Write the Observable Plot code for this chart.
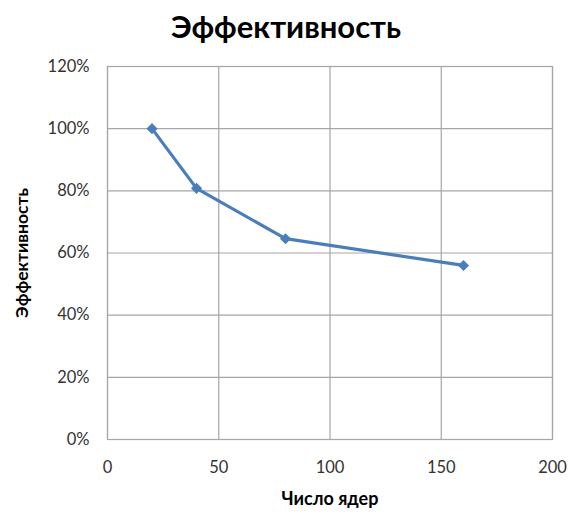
<!DOCTYPE html>
<html>
<head>
<meta charset="utf-8">
<script src="https://cdn.jsdelivr.net/npm/d3@7"></script>
<script src="https://cdn.jsdelivr.net/npm/@observablehq/plot@0.6"></script>
<style>
  html, body { margin: 0; padding: 0; background: #fff; }
  #chart { width: 572px; font-family: Lato, "Open Sans", sans-serif; }
  #title { height: 50px; line-height: 52px; text-align: center; font-size: 31px; font-weight: bold; color: #000; }
</style>
</head>
<body>
<div id="chart">
  <div id="title">Эффективность</div>
</div>
<script>
// Число ядер и соответствующая эффективность
const cores = [20, 40, 80, 160];
const efficiency = [1.0, 0.808, 0.646, 0.56];
const xTicks = [0, 50, 100, 150, 200];
const yTicks = [0, 0.2, 0.4, 0.6, 0.8, 1.0, 1.2];
const xLabel = "Число ядер";
const yLabel = "Эффективность";

const data = cores.map((c, i) => ({ cores: c, eff: efficiency[i] }));

const gridColor = "#a6a6a6";
const lineColor = "#4a7ebb";

const chart = Plot.plot({
  width: 572,
  height: 466,
  marginTop: 16,
  marginLeft: 107,
  marginRight: 20,
  marginBottom: 77,
  style: { fontFamily: "Lato, 'Open Sans', sans-serif", background: "#fff" },
  x: { domain: [0, 200] },
  y: { domain: [0, 1.2] },
  marks: [
    Plot.gridX(xTicks, { stroke: gridColor, strokeOpacity: 1, strokeWidth: 1.2 }),
    Plot.gridY(yTicks, { stroke: gridColor, strokeOpacity: 1, strokeWidth: 1.2 }),
    Plot.frame({ stroke: gridColor, strokeWidth: 1.2 }),
    Plot.axisX(xTicks, { tickSize: 0, tickPadding: 22, fontSize: 16.5, fill: "#333", label: null }),
    Plot.axisY(yTicks, { tickSize: 0, tickPadding: 18, fontSize: 16.5, fill: "#333", label: null,
      tickFormat: d => Math.round(d * 100) + "%" }),
    Plot.line(data, { x: "cores", y: "eff", stroke: lineColor, strokeWidth: 3.2 }),
    Plot.dot(data, { x: "cores", y: "eff", symbol: "diamond2", r: 5, fill: lineColor, stroke: null }),
    Plot.text([xLabel], { frameAnchor: "bottom", dy: 65, text: d => d, fontSize: 18, fontWeight: "bold", fill: "#000" }),
    Plot.text([yLabel], { frameAnchor: "left", textAnchor: "middle", dx: -85, rotate: -90, text: d => d,
      fontSize: 17.5, fontWeight: "bold", fill: "#000" })
  ]
});
document.getElementById("chart").appendChild(chart);
</script>
</body>
</html>
